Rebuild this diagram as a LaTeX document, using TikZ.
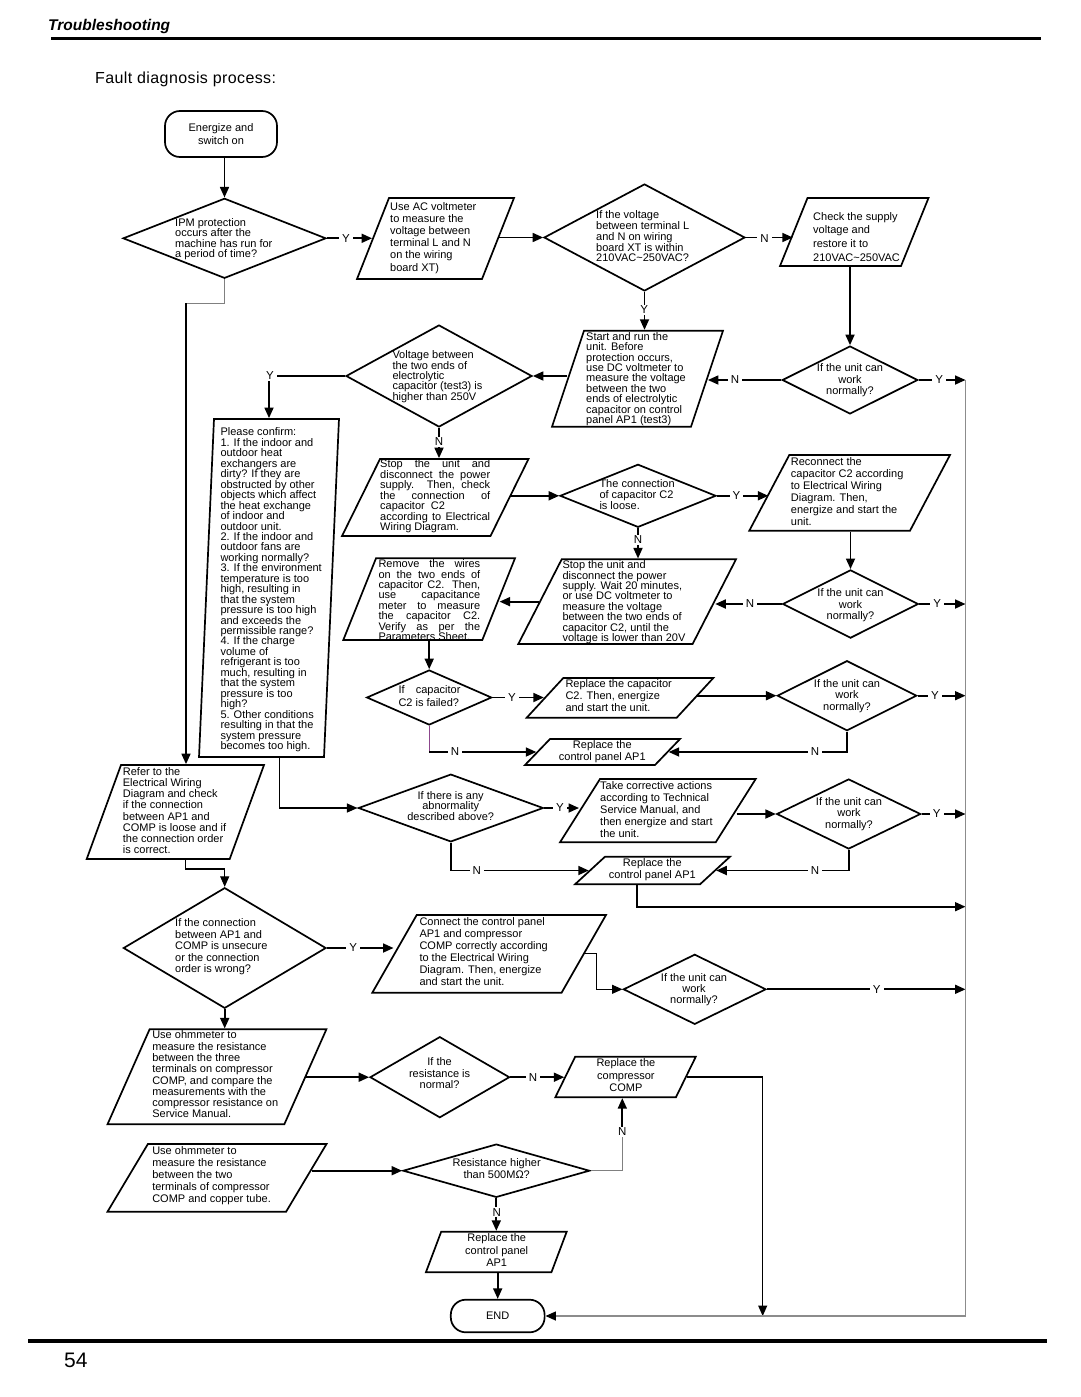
\documentclass[tikz,border=0pt]{standalone}
\usepackage{fontspec}
\setmainfont{Liberation Sans}
\usetikzlibrary{shapes.geometric,arrows.meta,calc}
\definecolor{plum}{RGB}{140,70,140}
\newcommand\fsz[1]{\fontsize{11}{#1}\selectfont\lineskiplimit=-100pt\relax}
\newcommand\jb[2]{\makebox[#1pt][s]{#2}}
% parallelogram node: name, x top-left, x bottom-left, y top, y bottom, edge length
\newcommand\mkpara[6]{%
 \pgfmathsetmacro\pcx{(#2+#3)/2+#6/2}%
 \pgfmathsetmacro\pcy{(#4+#5)/2}%
 \pgfmathsetmacro\pH{#5-#4}%
 \pgfmathsetmacro\pBw{#6-(#2-#3)}%
 \pgfmathsetmacro\pA{atan2(#5-#4,#2-#3)}%
 \pgfmathsetmacro\pB{180-\pA}%
 \edef\pcmd{\noexpand\node[shp,trapezium,trapezium left angle=\pA,trapezium right angle=\pB] (#1) at (\pcx,\pcy) {\noexpand\phantom{\noexpand\rule{\pBw pt}{\pH pt}}};}%
 \pcmd}
% diamond node: name, cx, cy, width, height
\newcommand\mkdiam[5]{\node[shp,diamond,minimum width=#4pt,minimum height=#5pt] (#1) at (#2,#3) {};}
\begin{document}
\begin{tikzpicture}[x=1pt,y=-1pt,
 shp/.style={draw, line width=1.7pt, inner sep=0pt},
 tl/.style={inner sep=0pt, anchor=north west, align=left, font=\fsz{#1}},
 tc/.style={inner sep=0pt, anchor=north, align=center, font=\fsz{#1}},
 arr/.style={line width=1.7pt, -{Triangle[length=10.5pt,width=9pt]}},
 arrthin/.style={line width=1.1pt, -{Triangle[length=10.5pt,width=9pt]}},
 gline/.style={line width=1pt, draw=black!50},
 pline/.style={line width=1pt, draw=plum},
 rline/.style={line width=1.4pt, draw=black!45, -{Triangle[length=10.5pt,width=9pt,color=black]}},
 lbl/.style={fill=white, inner xsep=3pt, inner ysep=1pt, font=\fontsize{11.5}{12}\selectfont},
 term/.style={shp, rounded corners=15pt, align=center, font=\fsz{13.5}},
]
\useasboundingbox (0,0) rectangle (1080,1397);

% header and footer
\node[anchor=base west, inner sep=0pt, font=\fontsize{15.5}{18}\selectfont\bfseries\itshape] (title) at (48,31) {Troubleshooting};
\draw[line width=3.5pt] (51,38.7) -- (1041,38.7);
\node[anchor=base west, inner sep=0pt, font=\fontsize{16}{19}\selectfont\addfontfeature{LetterSpace=2.5}] (fdp) at (95,83.3) {Fault diagnosis process:};
\draw[line width=4pt] (28,1341) -- (1047,1341);
\node[anchor=base west, inner sep=0pt, font=\fontsize{21}{24}\selectfont] (pg) at (64,1367) {54};

% shapes
\node[term, minimum width=112pt, minimum height=46pt] (S) at (221,134) {Energize and\\switch on};
\mkdiam{D1}{224.5}{238.3}{203}{80}
\mkpara{P1}{389}{357}{198}{279}{125}
\mkdiam{D2}{644.5}{237.5}{201}{107}
\mkpara{P2}{807.5}{780}{198}{266}{121}
\mkdiam{D3}{850}{380}{135.5}{68}
\mkpara{P3}{584}{552}{330.7}{426.7}{139}
\mkdiam{D4}{439}{376}{186}{102}
\mkpara{BX}{214}{199}{419}{757}{125}
\mkpara{P4}{380}{342}{459}{536}{148.5}
\mkdiam{D5}{638}{495.8}{156}{63}
\mkpara{P5}{789.3}{749.3}{455}{530.7}{160.7}
\mkdiam{D6}{850.5}{604}{135.6}{68.3}
\mkpara{P6}{561.7}{518.3}{559.3}{644}{174.3}
\mkpara{P7}{376}{343.3}{558.3}{640}{139}
\mkdiam{D7}{429.2}{697.5}{125}{55}
\mkpara{P8}{563.3}{526.7}{678}{717.7}{150}
\mkdiam{D8}{847}{695.7}{139.4}{70}
\mkpara{P9}{550}{525}{739}{765}{130}
\mkpara{P10}{121}{86.7}{765}{859}{143}
\mkdiam{D9}{450.8}{808}{185}{67.7}
\mkdiam{D10}{224.7}{948}{202.7}{120.6}
\mkpara{P11}{416.7}{372.3}{915}{992.7}{189.3}
\mkpara{P12}{600}{560}{779}{842.3}{155.7}
\mkdiam{D12}{848.7}{814}{144}{70}
\mkpara{P13}{605}{575}{856.7}{884.3}{125}
\mkdiam{D11}{694.7}{989.3}{142.7}{70}
\mkpara{P14}{149.6}{107.5}{1029.3}{1124.3}{176.8}
\mkdiam{D13}{439.8}{1077.2}{139.6}{81}
\mkpara{P15}{575.2}{555.3}{1056.7}{1097.3}{120.6}
\mkdiam{D14}{496.3}{1170.7}{186.7}{53.3}
\mkpara{P16}{147.9}{107.5}{1144}{1211.7}{178.6}
\mkpara{P17}{441.2}{425.9}{1231.7}{1272.3}{125.5}
\node[term, minimum width=93.8pt, minimum height=32.6pt] (END) at (497.7,1316) {END};

% texts
\node[tl=10.4] (D1t) at (175,218.2) {IPM protection\\occurs after the\\machine has run for\\a period of time?};
\node[tl=12.07] (P1t) at (390,202.5) {Use AC voltmeter\\to measure the\\voltage between\\terminal L and N\\on the wiring\\board XT)};
\node[tl=10.8] (D2t) at (596,210.5) {If the voltage\\between terminal L\\and N on wiring\\board XT is within\\210VAC\textasciitilde250VAC?};
\node[tl=13.6] (P2t) at (813,212.2) {Check the supply\\voltage and\\restore it to\\210VAC\textasciitilde250VAC};
\node[tc=11.5] (D3t) at (850,363.5) {If the unit can\\work\\normally?};
\node[tl=10.4] (P3t) at (586,332.2) {Start and run the\\unit. Before\\protection occurs,\\use DC voltmeter to\\measure the voltage\\between the two\\ends of electrolytic\\capacitor on control\\panel AP1 (test3)};
\node[tl=10.4] (D4t) at (392.3,350.5) {Voltage between\\the two ends of\\electrolytic\\capacitor (test3) is\\higher than 250V};
\node[tl=10.45] (BXt) at (220.3,427.8) {Please confirm:\\1. If the indoor and\\outdoor heat\\exchangers are\\dirty? If they are\\obstructed by other\\objects which affect\\the heat exchange\\of indoor and\\outdoor unit.\\2. If the indoor and\\outdoor fans are\\working normally?\\3. If the environment\\temperature is too\\high, resulting in\\that the system\\pressure is too high\\and exceeds the\\permissible range?\\4. If the charge\\volume of\\refrigerant is too\\much, resulting in\\that the system\\pressure is too\\high?\\5. Other conditions\\resulting in that the\\system pressure\\becomes too high.};
\node[tl=10.5] (P4t) at (380,459.8) {\jb{110}{Stop the unit and}\\\jb{110}{disconnect the power}\\\jb{110}{supply. Then, check}\\\jb{110}{the connection of}\\capacitor\ \ C2\\\jb{110}{according to Electrical}\\Wiring Diagram.};
\node[tl=10.8] (D5t) at (599.3,479.8) {The connection\\of capacitor C2\\is loose.};
\node[tl=12] (P5t) at (790.7,457.2) {Reconnect the\\capacitor C2 according\\to Electrical Wiring\\Diagram. Then,\\energize and start the\\unit.};
\node[tc=11.8] (D6t) at (850.5,588.2) {If the unit can\\work\\normally?};
\node[tl=10.4] (P6t) at (562.3,560.5) {Stop the unit and\\disconnect the power\\supply. Wait 20 minutes,\\or use DC voltmeter to\\measure the voltage\\between the two ends of\\capacitor C2, until the\\voltage is lower than 20V};
\node[tl=10.43] (P7t) at (378.3,559.5) {\jb{101.7}{Remove the wires}\\\jb{101.7}{on the two ends of}\\\jb{101.7}{capacitor C2. Then,}\\\jb{101.7}{use capacitance}\\\jb{101.7}{meter to measure}\\\jb{101.7}{the capacitor C2.}\\\jb{101.7}{Verify as per the}\\Parameters Sheet.};
\node[tl=13.3] (D7t) at (398.3,685.5) {\jb{62}{If capacitor}\\C2 is failed?};
\node[tl=12] (P8t) at (565.3,679.8) {Replace the capacitor\\C2. Then, energize\\and start the unit.};
\node[tc=11.3] (D8t) at (847,679.5) {If the unit can\\work\\normally?};
\node[tc=11.7] (P9t) at (602.3,740.5) {Replace the\\control panel AP1};
\node[tl=11.2] (P10t) at (122.7,767.2) {Refer to the\\Electrical Wiring\\Diagram and check\\if the connection\\between AP1 and\\COMP is loose and if\\the connection order\\is correct.};
\node[tc=10.5] (D9t) at (450.7,791.2) {If there is any\\abnormality\\described above?};
\node[tl=11.35] (D10t) at (175,918.8) {If the connection\\between AP1 and\\COMP is unsecure\\or the connection\\order is wrong?};
\node[tl=12.06] (P11t) at (419.3,917.2) {Connect the control panel\\AP1 and compressor\\COMP correctly according\\to the Electrical Wiring\\Diagram. Then, energize\\and start the unit.};
\node[tl=12] (P12t) at (600,781.2) {Take corrective actions\\according to Technical\\Service Manual, and\\then energize and start\\the unit.};
\node[tc=11.2] (D12t) at (849,797.5) {If the unit can\\work\\normally?};
\node[tc=11.7] (P13t) at (652.3,858.8) {Replace the\\control panel AP1};
\node[tc=11.2] (D11t) at (694,973.2) {If the unit can\\work\\normally?};
\node[tl=11.33] (P14t) at (152.1,1030.5) {Use ohmmeter to\\measure the resistance\\between the three\\terminals on compressor\\COMP, and compare the\\measurements with the\\compressor resistance on\\Service Manual.};
\node[tc=11.4] (D13t) at (439.6,1057.8) {If the\\resistance is\\normal?};
\node[tc=12.2] (P15t) at (625.9,1058.8) {Replace the\\compressor\\COMP};
\node[tc=12.3] (D14t) at (496.7,1158.2) {Resistance higher\\than 500MΩ?};
\node[tl=12.1] (P16t) at (152.1,1146.2) {Use ohmmeter to\\measure the resistance\\between the two\\terminals of compressor\\COMP and copper tube.};
\node[tc=12.2] (P17t) at (496.7,1233.8) {Replace the\\control panel\\AP1};

% helper coordinates
\coordinate (RL) at (965.5,380);
\coordinate (RB) at (965.5,1316);
\coordinate (c1) at (186,303.3);
\coordinate (c2) at (622.3,1131.7);
\coordinate (e1) at (762.7,1316);
\coordinate (r13) at (965.5,906.7);

% connectors
\draw[arr] (S.south -| D1.north) -- (D1.north);
\draw[arr] (D1.east) -- (D1.east -| P1.west);
\draw[arr] (D2.west -| P1.east) -- (D2.west);
\draw[arr] (D2.east) -- (D2.east -| P2.west);
\draw[arr] (P2.south -| D3.north) -- (D3.north);
\draw[arr] (D2.south) -- (D2.south |- P3.north);
\draw[arr] (D3.west) -- (D3.west -| P3.east);
\draw[arr] (D4.east -| P3.west) -- (D4.east);
\draw[arr] (D4.west) -| (269,0 |- BX.north);
\draw[gline] (D1.south) |- (c1);
\draw[arr] (c1) -- (c1 |- P10.north);
\draw[arr] (D4.south) -- (D4.south |- P4.north);
\draw[arr] (D5.west -| P4.east) -- (D5.west);
\draw[arr] (D5.east) -- (D5.east -| P5.west);
\draw[arr] (D5.south) -- (D5.south |- P6.north);
\draw[arr] (P5.south -| D6.north) -- (D6.north);
\draw[arr] (D6.west) -- (D6.west -| P6.east);
\draw[arr] (D6.east) -- (D6.east -| RL);
\draw[arr] (D3.east) -- (D3.east -| RL);
\draw[arr] (P6.west) -- (P6.west -| P7.east);
\draw[arr] (P7.south -| D7.north) -- (D7.north);
\draw[arr] (D7.east) -- (D7.east -| P8.west);
\draw[arr] (D8.west -| P8.east) -- (D8.west);
\draw[arr] (D8.east) -- (D8.east -| RL);
\draw[arr] (D8.south) |- (P9.east);
\draw[pline] (D7.south) -- (D7.south |- P9.west);
\draw[arr] (D7.south |- P9.west) -- (P9.west);
\draw[arrthin] (279.3,0 |- BX.south) |- (D9.west);
\draw[arrthin] (185.3,0 |- P10.south) -- (185.3,869) -| (D10.north);
\draw[arr] (D9.east) -- (D9.east -| P12.west);
\draw[arr] (D12.west -| P12.east) -- (D12.west);
\draw[arr] (D12.east) -- (D12.east -| RL);
\draw[arr] (D12.south) |- (P13.east);
\draw[arr] (D9.south) |- (P13.west);
\draw[arr] (637.3,0 |- P13.south) |- (r13);
\draw[arr] (D10.east) -- (D10.east -| P11.west);
\draw[arrthin] (P11.east) -| (596.7,989.3) -- (D11.west);
\draw[arr] (D11.east) -- (D11.east -| RL);
\draw[arr] (D10.south) -- (D10.south |- P14.north);
\draw[arr] (D13.west -| P14.east) -- (D13.west);
\draw[arr] (D13.east) -- (D13.east -| P15.west);
\draw[arrthin] (P15.east) -| (e1);
\draw[arr] ($(D14.west -| P16.east)+(4.3,0)$) -- (D14.west);
\draw[gline] (D14.east) -| (c2);
\draw[arr] (c2) -- (c2 |- P15.south);
\draw[arr] (D14.south) -- (D14.south |- P17.north);
\draw[arr] (P17.south -| END.north) -- (END.north);
\draw[rline] (RL) -- (RB) -- (END.east);

% labels
\node[lbl] (y1) at (345.9,238.3) {Y};
\node[lbl] (n1) at (764.6,238.3) {N};
\node[lbl] (y2) at (644.3,310) {Y};
\node[lbl] (n2) at (735,380) {N};
\node[lbl] (y3) at (939.3,380) {Y};
\node[lbl] (y4) at (270,376) {Y};
\node[lbl] (n3) at (439,441.7) {N};
\node[lbl] (y5) at (736.5,495.8) {Y};
\node[lbl] (n4) at (638,540) {N};
\node[lbl] (n5) at (750,604) {N};
\node[lbl] (y6) at (937.3,604) {Y};
\node[lbl] (y7) at (512,697.5) {Y};
\node[lbl] (y8) at (935,695.7) {Y};
\node[lbl] (n6) at (815,752) {N};
\node[lbl] (n7) at (455,752) {N};
\node[lbl] (y9) at (560,808) {Y};
\node[lbl] (y10) at (936.7,814) {Y};
\node[lbl] (n8) at (815,870.5) {N};
\node[lbl] (n9) at (476.7,870.5) {N};
\node[lbl] (y11) at (353.3,948) {Y};
\node[lbl] (y12) at (876.7,989.3) {Y};
\node[lbl] (n10) at (532.9,1077.2) {N};
\node[lbl] (n11) at (622.3,1131.7) {N};
\node[lbl] (n12) at (496.7,1212.3) {N};
\end{tikzpicture}
\end{document}
